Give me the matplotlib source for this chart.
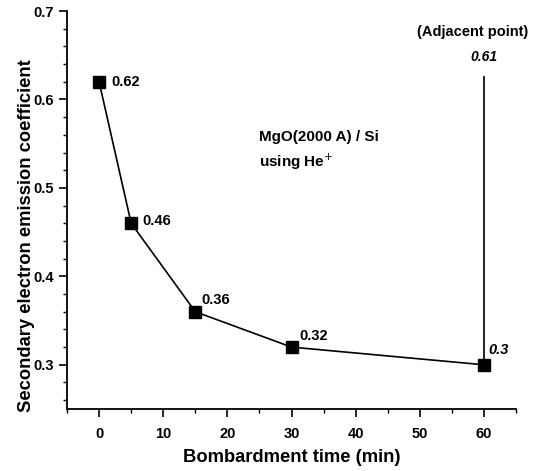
import matplotlib
matplotlib.use("Agg")
import matplotlib.pyplot as plt
from matplotlib.ticker import MultipleLocator

plt.rcParams['font.family'] = ['Liberation Sans', 'DejaVu Sans']

time_min = [0, 5, 15, 30, 60]
coeff = [0.62, 0.46, 0.36, 0.32, 0.30]
point_labels = ['0.62', '0.46', '0.36', '0.32', '0.3']
adjacent_value = 0.61
adjacent_label = '0.61'

fig = plt.figure(figsize=(5.37, 4.71), dpi=100)
ax = fig.add_axes([0.1248, 0.1316, 0.961 - 0.1248, 0.9766 - 0.1316])

ax.plot(time_min, coeff, color='black', lw=1.2, marker='s', ms=8.5,
        markerfacecolor='black', markeredgecolor='black', zorder=3)

offsets = [(8.6, 0), (8, 1.5), (4.5, 8.5), (6, 8), (3, 11)]
styles = ['normal', 'normal', 'normal', 'normal', 'italic']
for x, y, lab, off, st in zip(time_min, coeff, point_labels, offsets, styles):
    ax.annotate(lab, xy=(x, y), xytext=off, textcoords='offset points',
                ha='left', va='center',
                fontsize=10.5, fontweight='bold', style=st)

# vertical line to the adjacent point
ax.annotate(adjacent_label, xy=(time_min[-1], coeff[-1]),
            xytext=(time_min[-1], 0.648), ha='center', va='center',
            fontsize=10, fontweight='bold', style='italic',
            arrowprops=dict(arrowstyle='-', lw=1.2, color='black',
                            shrinkA=7, shrinkB=4))
ax.text(58.2, 0.676, '(Adjacent point)', ha='center', va='center',
        fontsize=10.5, fontweight='bold')

ax.text(25.0, 0.557, 'MgO(2000 A) / Si', fontsize=11, fontweight='bold',
        ha='left', va='center')
ax.text(25.0, 0.529, 'using He$^{+}$', fontsize=11, fontweight='bold',
        ha='left', va='center')

ax.set_xlim(-5, 65)
ax.set_ylim(0.25, 0.7)
ax.xaxis.set_major_locator(MultipleLocator(10))
ax.xaxis.set_minor_locator(MultipleLocator(5))
ax.yaxis.set_major_locator(MultipleLocator(0.1))
ax.yaxis.set_minor_locator(MultipleLocator(0.02))
ax.set_xticks([0, 10, 20, 30, 40, 50, 60])
ax.set_yticks([0.3, 0.4, 0.5, 0.6, 0.7])
ax.set_yticklabels(['0.3', '0.4', '0.5', '0.6', '0.7'])

for s in ['top', 'right']:
    ax.spines[s].set_visible(False)
for s in ['left', 'bottom']:
    ax.spines[s].set_linewidth(1.3)

ax.tick_params(axis='both', which='major', direction='out', length=6, width=1.2,
               labelsize=10.5)
ax.tick_params(axis='both', which='minor', direction='out', length=3, width=1.0)
ax.tick_params(axis='x', pad=7)
for lab in ax.get_xticklabels() + ax.get_yticklabels():
    lab.set_fontweight('bold')

ax.set_xlabel('Bombardment time (min)', fontsize=13.2, fontweight='bold', labelpad=6)
ax.set_ylabel('Secondary electron emission coefficient', fontsize=13.2,
              fontweight='bold')
ax.yaxis.set_label_coords(-0.072, 0.436)

fig.savefig('out.png', dpi=100)
